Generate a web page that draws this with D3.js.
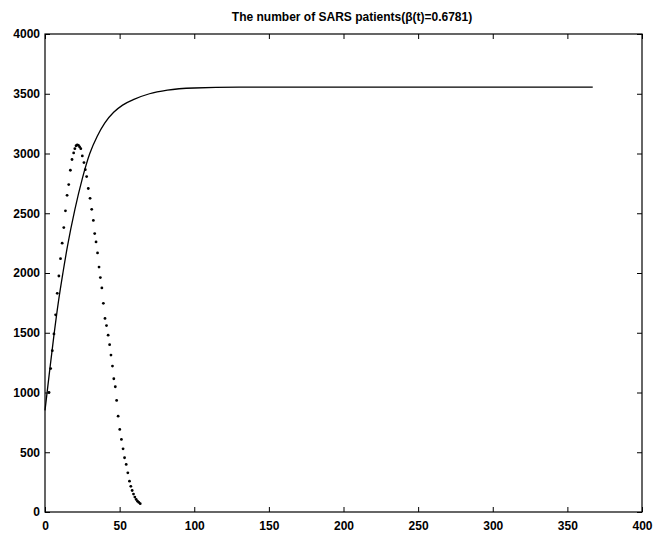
<!DOCTYPE html>
<html>
<head>
<meta charset="utf-8">
<script src="https://cdn.jsdelivr.net/npm/d3@7"></script>
<style>
  html, body { margin: 0; padding: 0; background: #fff; }
  text { font-family: "Liberation Sans", Arial, sans-serif; fill: #000; }
</style>
</head>
<body>
<div id="chart"></div>
<script>
const width = 655;
const height = 533;

// Tick values
const xTicks = [0, 50, 100, 150, 200, 250, 300, 350, 400];
const yTicks = [0, 500, 1000, 1500, 2000, 2500, 3000, 3500, 4000];

// Model curve (solid line): day, patients
const modelDays = [0, 3, 6, 9, 12, 15, 20, 25, 30, 35, 40, 46, 52, 60, 70, 82, 100, 130, 200, 367];
const modelValues = [850, 1170, 1480, 1760, 2000, 2220, 2530, 2790, 3000, 3145, 3255, 3345, 3405, 3455, 3500, 3530, 3548, 3555, 3556, 3556];

// Observed data (dots): day, patients
const obsDays = [2.7, 3.8, 4.9, 6.0, 7.1, 8.2, 9.3, 10.4, 11.5, 12.6, 13.7, 14.8, 15.9, 17.0, 18.1, 19.2, 20.0, 20.8, 21.6, 22.4, 23.2, 24.0,
  25.0, 26.1, 27.0, 27.9, 29.0, 30.2, 31.3, 32.4, 33.3, 34.2, 35.2, 36.2, 37.1, 38.1, 39.1, 40.2, 41.2, 42.3, 43.3, 44.2, 45.2, 46.1,
  47.1, 48.0, 49.0, 50.1, 51.2, 52.3, 53.3, 54.4, 55.5, 56.6, 57.5, 58.4, 59.3, 60.2, 61.1, 62.0, 62.9, 63.8];
const obsValues = [1000, 1200, 1350, 1490, 1650, 1830, 1975, 2120, 2250, 2380, 2520, 2650, 2740, 2860, 2950, 3005, 3040, 3065, 3072, 3068, 3055, 3040,
  2980, 2924, 2865, 2807, 2707, 2625, 2533, 2440, 2330, 2260, 2168, 2050, 1962, 1875, 1746, 1620, 1560, 1480, 1400, 1313, 1221, 1115,
  1048, 934, 802, 691, 607, 529, 454, 398, 328, 258, 215, 180, 150, 125, 105, 90, 80, 70];

const plot = { left: 45, right: 642, top: 34, bottom: 512 };

const x = d3.scaleLinear().domain([0, 400]).range([plot.left, plot.right]);
const y = d3.scaleLinear().domain([0, 4000]).range([plot.bottom, plot.top]);

const svg = d3.select("#chart")
  .append("svg")
  .attr("width", width)
  .attr("height", height);

// Title
svg.append("text")
  .attr("x", 352)
  .attr("y", 21)
  .attr("text-anchor", "middle")
  .style("font-size", "12px")
  .style("font-weight", "bold")
  .text("The number of SARS patients(β(t)=0.6781)");

// Axes with inward ticks on all four sides
const tickLen = 5;
const fmt = d3.format("d");
svg.append("g")
  .attr("transform", `translate(0,${plot.bottom})`)
  .call(d3.axisBottom(x).tickValues(xTicks).tickFormat(fmt).tickSizeInner(-tickLen).tickSizeOuter(0).tickPadding(9))
  .call(g => g.select(".domain").remove());
svg.append("g")
  .attr("transform", `translate(0,${plot.top})`)
  .call(d3.axisTop(x).tickValues(xTicks).tickSizeInner(-tickLen).tickSizeOuter(0).tickFormat(""))
  .call(g => g.select(".domain").remove());
svg.append("g")
  .attr("transform", `translate(${plot.left},0)`)
  .call(d3.axisLeft(y).tickValues(yTicks).tickFormat(fmt).tickSizeInner(-tickLen).tickSizeOuter(0).tickPadding(5))
  .call(g => g.select(".domain").remove());
svg.append("g")
  .attr("transform", `translate(${plot.right},0)`)
  .call(d3.axisRight(y).tickValues(yTicks).tickSizeInner(-tickLen).tickSizeOuter(0).tickFormat(""))
  .call(g => g.select(".domain").remove());

svg.selectAll(".tick text")
  .style("font-family", "'Liberation Sans', Arial, sans-serif")
  .style("font-size", "12px")
  .style("font-weight", "bold");
svg.selectAll(".tick line").attr("stroke", "#000");

// Frame
svg.append("rect")
  .attr("x", plot.left)
  .attr("y", plot.top)
  .attr("width", plot.right - plot.left)
  .attr("height", plot.bottom - plot.top)
  .attr("fill", "none")
  .attr("stroke", "#000")
  .attr("stroke-width", 1.2);

// Model line
const model = modelDays.map((d, i) => [d, modelValues[i]]);
svg.append("path")
  .datum(model)
  .attr("fill", "none")
  .attr("stroke", "#000")
  .attr("stroke-width", 1.3)
  .attr("d", d3.line().x(d => x(d[0])).y(d => y(d[1])).curve(d3.curveMonotoneX));

// Observed dots
const obs = obsDays.map((d, i) => [d, obsValues[i]]);
svg.append("g")
  .selectAll("circle")
  .data(obs)
  .join("circle")
  .attr("cx", d => x(d[0]))
  .attr("cy", d => y(d[1]))
  .attr("r", 1.4)
  .attr("fill", "#000");
</script>
</body>
</html>
